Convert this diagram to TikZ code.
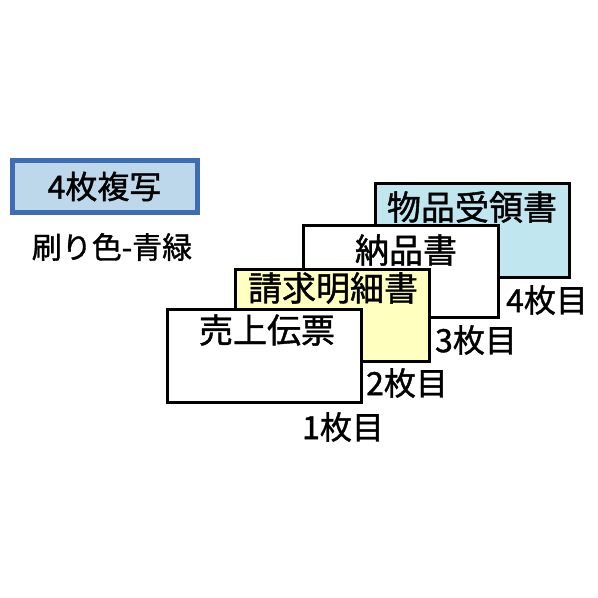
\documentclass[tikz,border=0pt]{standalone}
\usepackage{fontspec}
\setmainfont[FakeBold=1.2]{Noto Sans CJK JP}
\definecolor{hdrblue}{HTML}{3F6DB3}
\definecolor{hdrfill}{HTML}{BDD7EB}
\definecolor{cyanfill}{HTML}{C0E6F0}
\definecolor{yelfill}{HTML}{FFFFC0}
\tikzset{
  sheet/.style={draw=black, line width=2.5pt, anchor=north west, inner sep=0pt},
  title/.style={font=\fontsize{34}{34}\selectfont, inner sep=0pt},
  lab/.style={font=\fontsize{32}{32}\selectfont, inner sep=0pt},
}
\begin{document}
\begin{tikzpicture}[x=1pt,y=-1pt]
\useasboundingbox (0,0) rectangle (598,598);
\fill[white] (0,0) rectangle (598,598);
% header
\node[draw=hdrblue, fill=hdrfill, line width=5pt, minimum width=185pt, minimum height=52pt, anchor=center, inner sep=0pt, font=\fontsize{32}{32}\selectfont] (hdr) at (104.5,186.5) {4枚複写};
\node[lab, font=\fontsize{30}{30}\selectfont] (ink) at (112,247) {刷り色-青緑};
% sheets
\node[sheet, fill=cyanfill, minimum width=194pt, minimum height=94pt] (s4) at (374,182) {};
\node[sheet, fill=white, minimum width=195pt, minimum height=92pt] (s3) at (302,224) {};
\node[sheet, fill=yelfill, minimum width=194pt, minimum height=92pt] (s2) at (234,268) {};
\node[sheet, fill=white, minimum width=194pt, minimum height=93pt] (s1) at (166,308) {};
% titles
\node[title] (t4) at (472,207) {物品受領書};
\node[title] (t3) at (406,250) {納品書};
\node[title] (t2) at (333,288) {請求明細書};
\node[title] (t1) at (267,330) {売上伝票};
% labels
\node[lab] (l4) at (547,300) {4枚目};
\node[lab] (l3) at (476,340) {3枚目};
\node[lab] (l2) at (407,383) {2枚目};
\node[lab] (l1) at (343,427) {1枚目};
\end{tikzpicture}
\end{document}
